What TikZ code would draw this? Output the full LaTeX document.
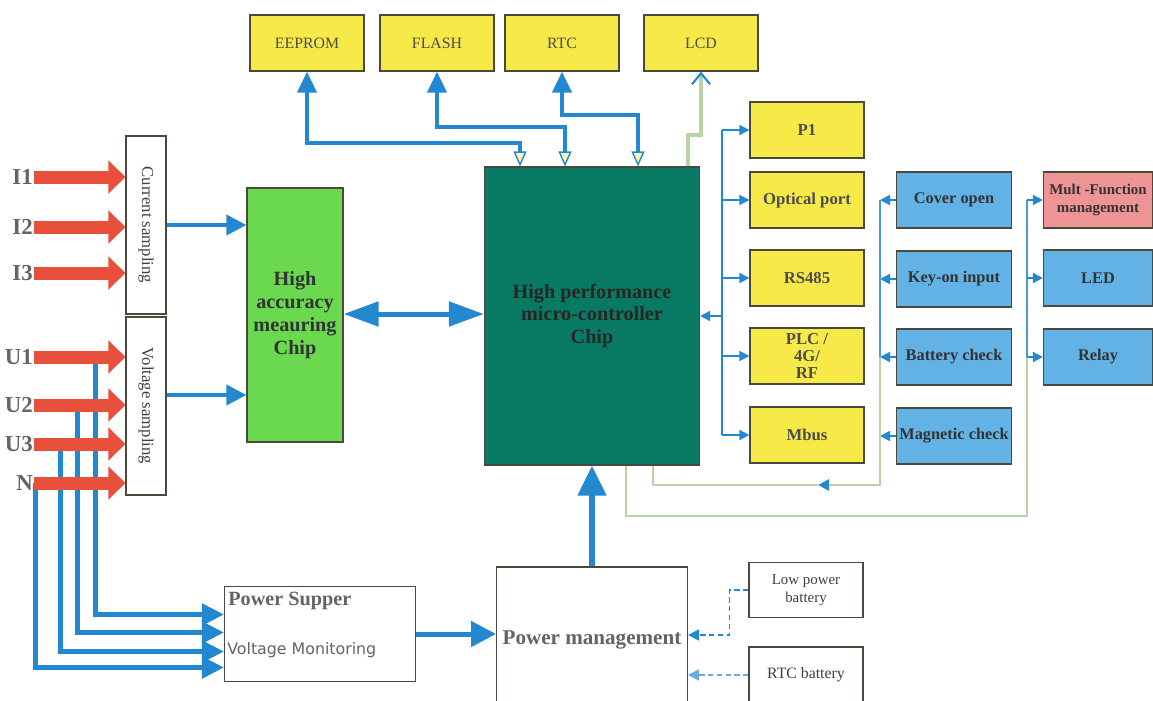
\documentclass[tikz,border=0pt]{standalone}
\usepackage{fontspec}
\setmainfont{Liberation Serif}
\setsansfont{DejaVu Sans}
\usepackage{tikz}
\usetikzlibrary{arrows.meta,calc}
\definecolor{padyellow}{RGB}{247,233,72}
\definecolor{metergreen}{RGB}{106,217,80}
\definecolor{mcuteal}{RGB}{8,121,98}
\definecolor{portblue}{RGB}{98,178,230}
\definecolor{alarmpink}{RGB}{238,148,148}
\definecolor{phasered}{RGB}{232,80,60}
\definecolor{busblue}{RGB}{36,136,208}
\definecolor{loopgreen}{RGB}{184,212,166}
\definecolor{edgegray}{RGB}{75,72,60}
\definecolor{inkgray}{RGB}{100,100,100}

\begin{document}
\begin{tikzpicture}[
x=0.02cm,
y=-0.02cm,
pad/.style={
draw=edgegray,
line width=0.7pt,
fill=padyellow,
minimum width=2.28cm,
minimum height=1.12cm,
inner sep=1pt,
align=center,
text=black!70,
font=\fontsize{9}{10}\selectfont
},
port/.style={
pad,
font=\fontsize{9.5}{10.5}\selectfont\bfseries
},
sense/.style={
port,
fill=portblue,
minimum width=2.3cm,
text=black!80,
font=\fontsize{9.3}{10.5}\selectfont\bfseries
},
plain/.style={
draw=edgegray,
line width=0.6pt,
fill=white,
inner sep=1pt,
align=center,
text=black!75
},
phase/.style={
anchor=east,
inner sep=0.5pt,
text=inkgray,
font=\fontsize{13}{14}\selectfont\bfseries
},
feed/.style={
-{Triangle[length=0.34cm,width=0.64cm]},
line width=0.26cm,
color=phasered
},
pwr/.style={
-{Triangle[length=0.44cm,width=0.42cm]},
line width=0.1cm,
color=busblue
},
bus/.style={
line width=0.08cm,
color=busblue
},
wire/.style={
-{Triangle[length=0.2cm,width=0.2cm]},
line width=1pt,
color=busblue
},
loop/.style={
line width=1.6pt,
color=loopgreen
}
]

\useasboundingbox (0,0) rectangle (1153,700);
\clip (0,0) rectangle (1153,700);

\node[pad] (eeprom) at (307,43) {EEPROM};
\node[pad] (flash) at (437,43) {FLASH};
\node[pad] (rtc) at (562,43) {RTC};
\node[pad] (lcd) at (701,43) {LCD};

\node[draw=edgegray, line width=0.7pt, fill=mcuteal, minimum width=4.3cm, minimum height=5.96cm,
align=center, text=black!85, font=\fontsize{11.5}{13}\selectfont\bfseries]
(mcu) at (592,316) {High performance\\micro-controller\\Chip};

\node[draw=edgegray, line width=0.7pt, fill=metergreen, minimum width=1.92cm, minimum height=5.08cm,
align=center, inner sep=0pt, text=black!80, font=\fontsize{11.5}{13}\selectfont\bfseries]
(meter) at (295,315) {High\\accuracy\\meauring\\Chip};

\node[plain, minimum width=0.8cm, minimum height=3.56cm, font=\fontsize{9.5}{10}\selectfont]
(cur) at (146,225) {\rotatebox{-90}{Current sampling}};
\node[plain, minimum width=0.8cm, minimum height=3.56cm, font=\fontsize{9.5}{10}\selectfont]
(vol) at (146,406) {\rotatebox{-90}{Voltage sampling}};

\node[phase] (lI1) at (34,177) {I1};
\node[phase] (lI2) at (34,227) {I2};
\node[phase] (lI3) at (34,273) {I3};
\node[phase] (lU1) at (34,357) {U1};
\node[phase] (lU2) at (34,405) {U2};
\node[phase] (lU3) at (34,444) {U3};
\node[phase] (lN) at (34,483) {N};

\node[port] (p1) at (807,130) {P1};
\node[port] (optic) at (807,200) {Optical port};
\node[port] (rs485) at (807,278) {RS485};
\node[port, font=\fontsize{9.5}{9.5}\selectfont\bfseries] (plc) at (807,356) {PLC /\\4G/\\RF};
\node[port] (mbus) at (807,435) {Mbus};

\node[sense] (cover) at (954,200) {Cover open};
\node[sense] (keyon) at (954,279) {Key-on input};
\node[sense] (batchk) at (954,357) {Battery check};
\node[sense] (magnet) at (954,436) {Magnetic check};

\node[sense, fill=alarmpink, minimum width=2.18cm, font=\fontsize{8.5}{10}\selectfont\bfseries]
(multi) at (1098,200) {Mult -Function\\management};
\node[sense, minimum width=2.18cm] (led) at (1098,278) {LED};
\node[sense, minimum width=2.18cm] (relay) at (1098,357) {Relay};

\node[plain, minimum width=3.82cm, minimum height=1.9cm] (psup) at (320,634) {};
\node[anchor=west, inner sep=0pt, text=inkgray, font=\fontsize{11.5}{12}\selectfont\bfseries]
(psupA) at (228,601) {Power Supper};
\node[anchor=west, inner sep=0pt, text=inkgray, font=\sffamily\fontsize{9}{10}\selectfont]
(psupB) at (227,650) {Voltage Monitoring};

\node[plain, minimum width=3.82cm, minimum height=2.92cm, text=inkgray,
font=\fontsize{12}{13}\selectfont\bfseries] (pm) at (592,640) {Power management};

\node[plain, minimum width=2.28cm, minimum height=1.1cm, font=\fontsize{8.5}{10}\selectfont]
(lowbat) at (806,590) {Low power\\battery};
\node[plain, minimum width=2.28cm, minimum height=1.12cm, font=\fontsize{9}{10}\selectfont]
(rtcbat) at (806,675) {RTC battery};

\coordinate (busR) at (722,0);
\coordinate (busS) at (880,0);
\coordinate (busT) at (1027,0);
\coordinate (retS) at (818,485);

% supply taps from the voltage inputs
\draw[pwr] (95,0 |- lU1) |- ([yshift=0.39cm]psup.west);
\draw[pwr] (77,0 |- lU2) |- ([yshift=0.03cm]psup.west);
\draw[pwr] (60,0 |- lU3) |- ([yshift=-0.35cm]psup.west);
\draw[pwr] (35,0 |- lN) |- ([yshift=-0.67cm]psup.west);

\draw[feed] (lI1.east) -- (lI1.east -| cur.west);
\draw[feed] (lI2.east) -- (lI2.east -| cur.west);
\draw[feed] (lI3.east) -- (lI3.east -| cur.west);
\draw[feed] (lU1.east) -- (lU1.east -| vol.west);
\draw[feed] (lU2.east) -- (lU2.east -| vol.west);
\draw[feed] (lU3.east) -- (lU3.east -| vol.west);
\draw[feed] (lN.east) -- (lN.east -| vol.west);

\draw[bus, -{Triangle[length=0.4cm,width=0.4cm]}]
(cur.east) -- (cur.east -| meter.west);
\draw[bus, -{Triangle[length=0.4cm,width=0.4cm]}]
([yshift=0.22cm]vol.east) -- ([yshift=0.22cm]vol.east -| meter.west);

\draw[bus, line width=0.1cm, {Triangle[length=0.7cm,width=0.48cm]}-{Triangle[length=0.7cm,width=0.48cm]}]
([yshift=0.02cm]meter.east) -- ([yshift=0.02cm]meter.east -| mcu.west);

% memory and clock buses
\draw[bus, {Triangle[length=0.42cm,width=0.38cm]}-{Triangle[length=0.3cm,width=0.26cm,fill=padyellow!40,line width=0.8pt]}]
(eeprom.south) |- (520,143) -- (520,0 |- mcu.north);
\draw[bus, {Triangle[length=0.42cm,width=0.38cm]}-{Triangle[length=0.3cm,width=0.26cm,fill=padyellow!40,line width=0.8pt]}]
(flash.south) |- (565,127) -- (565,0 |- mcu.north);
\draw[bus, {Triangle[length=0.42cm,width=0.38cm]}-{Triangle[length=0.3cm,width=0.26cm,fill=padyellow!40,line width=0.8pt]}]
(rtc.south) |- (638,115) -- (638,0 |- mcu.north);
\draw[line width=2pt, color=loopgreen, -{Straight Barb[length=0.22cm,width=0.36cm,color=busblue,line width=1.2pt]}]
(688,0 |- mcu.north) -- (688,135) -| (lcd.south);

% communication ports
\draw[wire, -] (busR |- p1) -- (busR |- mbus);
\draw[wire] (busR |- mcu.east) -- (mcu.east);
\draw[wire] (busR |- p1) -- (p1.west);
\draw[wire] (busR |- optic) -- (optic.west);
\draw[wire] (busR |- rs485) -- (rs485.west);
\draw[wire] (busR |- plc) -- (plc.west);
\draw[wire] (busR |- mbus) -- (mbus.west);

% alarm inputs
\draw[wire] (cover.west) -- (busS |- cover);
\draw[wire] (keyon.west) -- (busS |- keyon);
\draw[wire] (batchk.west) -- (busS |- batchk);
\draw[wire] (magnet.west) -- (busS |- magnet);
\draw[loop, -{Triangle[length=0.22cm,width=0.22cm,color=busblue]}]
(busS |- cover) -- (880,485) -- (retS);
\draw[loop] (retS) -- (653,485) -- (653,0 |- mcu.south);
\draw[wire, -, color=busblue!85] (busS |- cover) -- (busS |- batchk);

% outputs
\draw[loop] (626,0 |- mcu.south) -- (626,516) -- (1027,516) -- (busT |- multi);
\draw[wire, -, color=busblue!85] (busT |- multi) -- (busT |- relay);
\draw[wire] (busT |- multi) -- (multi.west);
\draw[wire] (busT |- led) -- (led.west);
\draw[wire] (busT |- relay) -- (relay.west);

% power path
\draw[bus, line width=0.1cm, -{Triangle[length=0.5cm,width=0.5cm]}]
(psup.east) -- (psup.east -| pm.west);
\draw[bus, line width=0.12cm, -{Triangle[length=0.6cm,width=0.55cm]}]
(pm.north) -- (pm.north |- mcu.south);
\draw[wire, densely dashed, -{Triangle[length=0.22cm,width=0.22cm]}]
(lowbat.west) -- ++(-19,0) |- ([yshift=0.1cm]pm.east);
\draw[wire, densely dashed, color=busblue!70, -{Triangle[length=0.22cm,width=0.22cm]}]
(rtcbat.west) -- (rtcbat.west -| pm.east);

\end{tikzpicture}
\end{document}
